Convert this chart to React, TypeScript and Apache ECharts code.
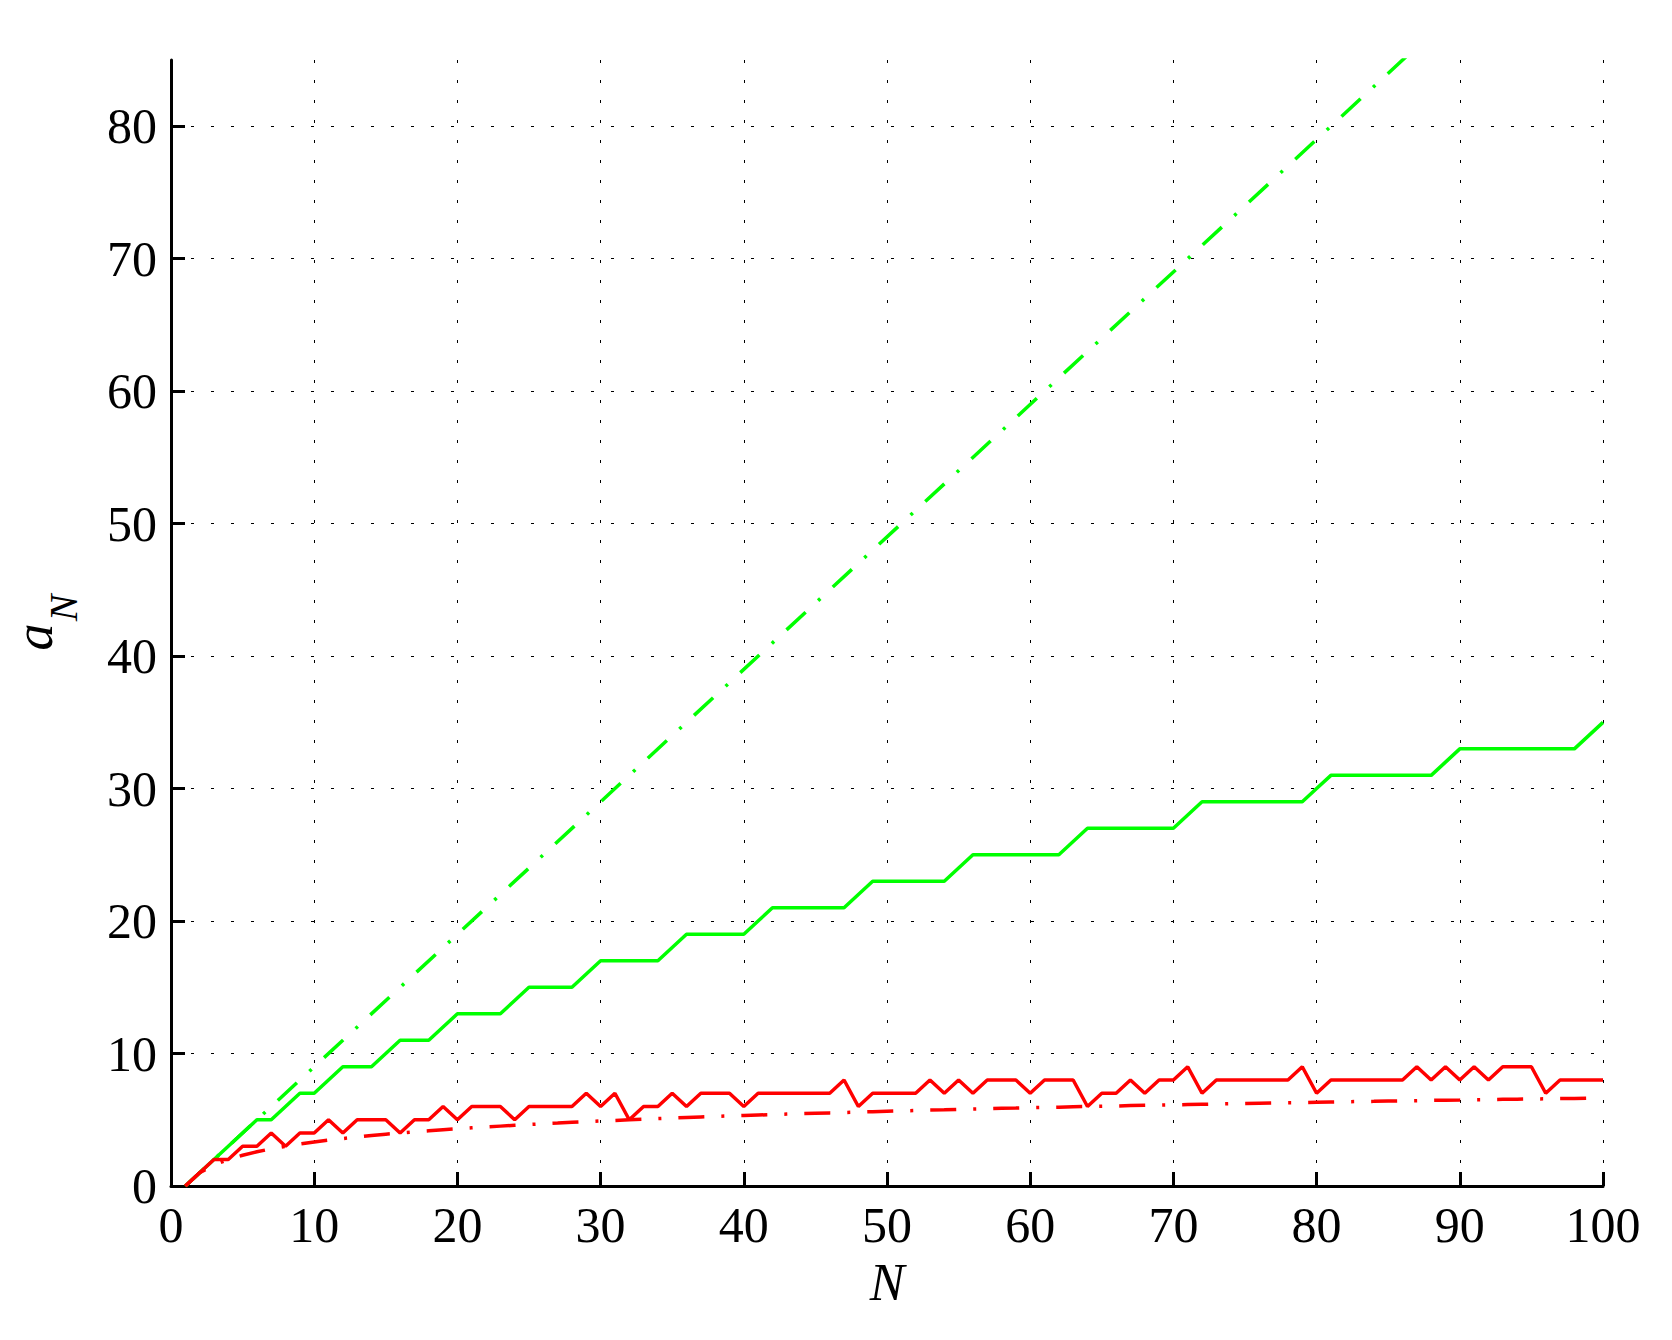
import React, { useEffect, useRef } from 'react';
import * as echarts from 'echarts';

// N = 1..100 (x positions of the samples)
const nValues: number[] = Array.from({ length: 100 }, (_, i) => i + 1);

// green solid staircase
const greenSolid: number[] = [
  0, 1, 2, 3, 4, 5, 5, 6, 7, 7,
  8, 9, 9, 9, 10, 11, 11, 11, 12, 13,
  13, 13, 13, 14, 15, 15, 15, 15, 16, 17,
  17, 17, 17, 17, 18, 19, 19, 19, 19, 19,
  20, 21, 21, 21, 21, 21, 21, 22, 23, 23,
  23, 23, 23, 23, 24, 25, 25, 25, 25, 25,
  25, 25, 26, 27, 27, 27, 27, 27, 27, 27,
  28, 29, 29, 29, 29, 29, 29, 29, 29, 30,
  31, 31, 31, 31, 31, 31, 31, 31, 32, 33,
  33, 33, 33, 33, 33, 33, 33, 33, 34, 35,
];

// red solid jagged line
const redSolid: number[] = [
  0, 1, 2, 2, 3, 3, 4, 3, 4, 4,
  5, 4, 5, 5, 5, 4, 5, 5, 6, 5,
  6, 6, 6, 5, 6, 6, 6, 6, 7, 6,
  7, 5, 6, 6, 7, 6, 7, 7, 7, 6,
  7, 7, 7, 7, 7, 7, 8, 6, 7, 7,
  7, 7, 8, 7, 8, 7, 8, 8, 8, 7,
  8, 8, 8, 6, 7, 7, 8, 7, 8, 8,
  9, 7, 8, 8, 8, 8, 8, 8, 9, 7,
  8, 8, 8, 8, 8, 8, 9, 8, 9, 8,
  9, 8, 9, 9, 9, 7, 8, 8, 8, 8,
];

// red dash-dot smooth curve
const redDashDot: number[] = [
  0, 1, 1.58, 2, 2.32, 2.58, 2.81, 3, 3.17, 3.32,
  3.46, 3.58, 3.7, 3.81, 3.91, 4, 4.09, 4.17, 4.25, 4.32,
  4.39, 4.46, 4.52, 4.58, 4.64, 4.7, 4.75, 4.81, 4.86, 4.91,
  4.95, 5, 5.04, 5.09, 5.13, 5.17, 5.21, 5.25, 5.29, 5.32,
  5.36, 5.39, 5.43, 5.46, 5.49, 5.52, 5.55, 5.58, 5.61, 5.64,
  5.67, 5.7, 5.73, 5.75, 5.78, 5.81, 5.83, 5.86, 5.88, 5.91,
  5.93, 5.95, 5.98, 6, 6.02, 6.04, 6.07, 6.09, 6.11, 6.13,
  6.15, 6.17, 6.19, 6.21, 6.23, 6.25, 6.27, 6.29, 6.3, 6.32,
  6.34, 6.36, 6.38, 6.39, 6.41, 6.43, 6.44, 6.46, 6.48, 6.49,
  6.51, 6.52, 6.54, 6.55, 6.57, 6.58, 6.6, 6.61, 6.63, 6.64,
];

// green dash-dot straight line (end points)
const greenDashDotN: number[] = [1, 100];
const greenDashDotVals: number[] = [0, 99];

const xTicks: number[] = [0, 10, 20, 30, 40, 50, 60, 70, 80, 90, 100];
const yTicks: number[] = [0, 10, 20, 30, 40, 50, 60, 70, 80];

const FONT = '"Liberation Serif", "Times New Roman", serif';

export default function App() {
  const ref = useRef<HTMLDivElement>(null);

  useEffect(() => {
    if (!ref.current) return;
    const chart = echarts.init(ref.current, null, { renderer: 'svg' });
    const dashDot = [26, 17, 3, 17];
    const pairs = (xs: number[], ys: number[]) => ys.map((v, i) => [xs[i], v]);

    chart.setOption({
      animation: false,
      backgroundColor: '#ffffff',
      grid: { left: 171, right: 69, top: 60, bottom: 154, containLabel: false },
      xAxis: {
        type: 'value',
        min: 0,
        max: 100,
        interval: 10,
        name: 'N',
        nameLocation: 'middle',
        nameGap: 70,
        nameTextStyle: { fontFamily: FONT, fontStyle: 'italic', fontSize: 52, color: '#000' },
        axisLine: { show: true, onZero: false, lineStyle: { color: '#000', width: 3 } },
        axisTick: { show: true, inside: true, length: 14, customValues: xTicks, lineStyle: { color: '#000', width: 3 } },
        axisLabel: { margin: 14, fontFamily: FONT, fontSize: 50, color: '#000', customValues: xTicks },
        splitLine: { show: true, showMinLine: false, lineStyle: { color: '#000', width: 1, type: [3, 17] } },
      },
      yAxis: {
        type: 'value',
        min: 0,
        max: 85,
        interval: 10,
        axisLine: { show: true, onZero: false, lineStyle: { color: '#000', width: 3 } },
        axisTick: { show: true, inside: true, length: 14, customValues: yTicks, lineStyle: { color: '#000', width: 3 } },
        axisLabel: { margin: 14, fontFamily: FONT, fontSize: 50, color: '#000', customValues: yTicks },
        splitLine: { show: true, showMinLine: false, lineStyle: { color: '#000', width: 1, type: [3, 17] } },
      },
      graphic: [
        {
          type: 'text',
          x: 34,
          y: 637,
          rotation: Math.PI / 2,
          style: { text: 'a', font: 'italic 54px ' + FONT, fill: '#000', align: 'center', verticalAlign: 'middle' },
        },
        {
          type: 'text',
          x: 63,
          y: 608,
          rotation: Math.PI / 2,
          style: { text: 'N', font: 'italic 40px ' + FONT, fill: '#000', align: 'center', verticalAlign: 'middle' },
        },
      ],
      series: [
        {
          type: 'line',
          data: pairs(greenDashDotN, greenDashDotVals),
          showSymbol: false,
          clip: true,
          lineStyle: { color: '#00ff00', width: 3.5, type: dashDot },
        },
        {
          type: 'line',
          data: pairs(nValues, greenSolid),
          showSymbol: false,
          clip: true,
          lineStyle: { color: '#00ff00', width: 3.5, type: 'solid' },
        },
        {
          type: 'line',
          data: pairs(nValues, redDashDot),
          showSymbol: false,
          clip: true,
          lineStyle: { color: '#ff0000', width: 3.5, type: dashDot },
        },
        {
          type: 'line',
          data: pairs(nValues, redSolid),
          showSymbol: false,
          clip: true,
          lineStyle: { color: '#ff0000', width: 3.5, type: 'solid' },
        },
      ],
    });

    return () => chart.dispose();
  }, []);

  return (
    <div
      ref={ref}
      style={{ position: 'fixed', left: 0, top: 0, width: 1672, height: 1340, background: '#fff' }}
    />
  );
}
